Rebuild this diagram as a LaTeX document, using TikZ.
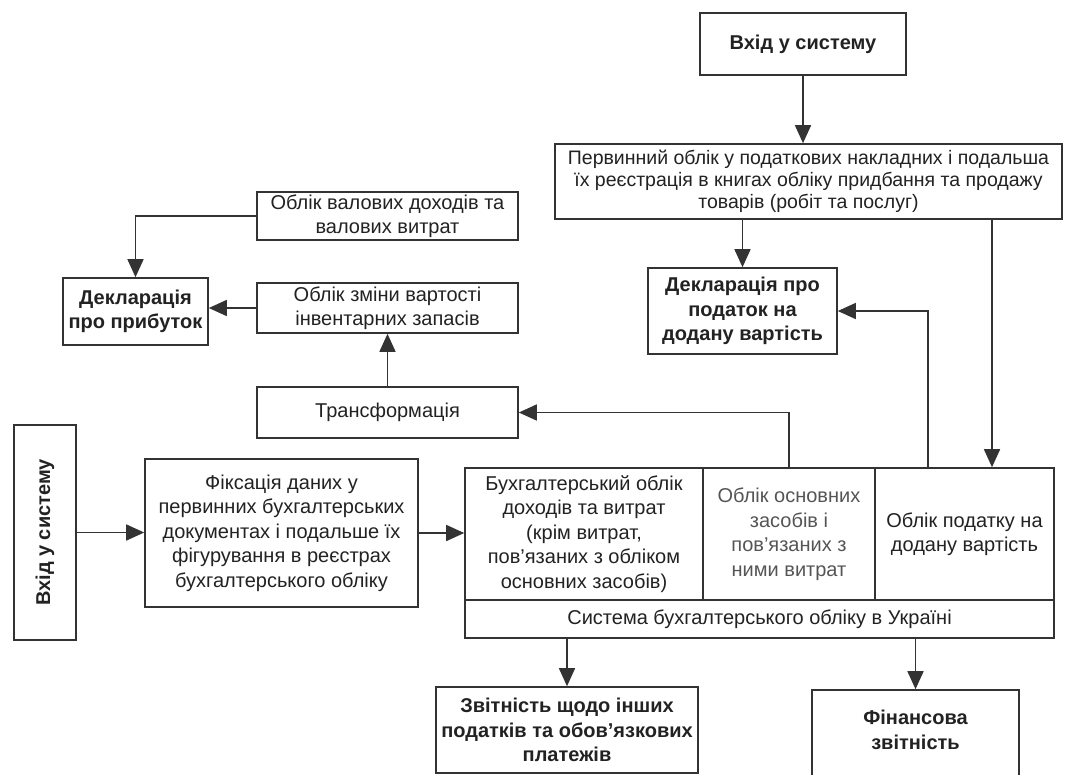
\documentclass[tikz,border=0pt]{standalone}
\usepackage{fontspec}
\setmainfont{Liberation Sans}
\usetikzlibrary{arrows.meta,calc}
\definecolor{ln}{HTML}{333333}
\definecolor{tx}{HTML}{222222}
\definecolor{txl}{HTML}{555555}
\begin{document}
\begin{tikzpicture}[x=1pt,y=-1pt,
  bx/.style={draw=ln, line width=1.6pt, align=center, inner sep=0pt, text=tx,
    font=\fontsize{20}{24.5}\selectfont},
  bxb/.style={bx, font=\fontsize{20}{24.5}\selectfont\bfseries},
  lbl/.style={align=center, inner sep=0pt, text=tx, font=\fontsize{20}{24.5}\selectfont\bfseries},
  ar/.style={draw=ln, line width=1.5pt, -{Triangle[length=18pt,width=16pt]}}]
\useasboundingbox[fill=white] (0,0) rectangle (1067,774);

% top part
\node[bxb, minimum width=206, minimum height=62] (in1) at (803,44) {Вхід у систему};
\node[bx, minimum width=507, minimum height=75, font=\fontsize{19.5}{22}\selectfont] (prim) at (808.5,181.5)
  {Первинний облік у податкових накладних і подальша\\їх реєстрація в книгах обліку придбання та продажу\\товарів (робіт та послуг)};
\node[bx, minimum width=261, minimum height=48] (gross) at (387.5,216) {Облік валових доходів та\\валових витрат};
\node[bx, minimum width=261, minimum height=50] (inv) at (387.5,308) {Облік зміни вартості\\інвентарних запасів};
\node[bxb, minimum width=145, minimum height=67] (profit) at (135.5,311.5) {Декларація\\про прибуток};
\node[bxb, minimum width=189, minimum height=86] (declvat) at (742.5,311) {Декларація про\\податок на\\додану вартість};
\node[bx, minimum width=261, minimum height=51] (transf) at (387.5,412.5) {Трансформація};

% left entry
\node[bx, minimum width=62, minimum height=215] (in2) at (45,532.5) {};
\node[lbl, rotate=90] (in2lbl) at (in2.center) {Вхід у систему};
\node[bx, minimum width=273, minimum height=148] (fix) at (281.5,533)
  {Фіксація даних у\\первинних бухгалтерських\\документах і подальше їх\\фігурування в реєстрах\\бухгалтерського обліку};

% accounting system
\node[bx, minimum width=238, minimum height=132] (acc) at (584,534)
  {Бухгалтерський облік\\доходів та витрат\\(крім витрат,\\пов’язаних з обліком\\основних засобів)};
\node[bx, minimum width=172, minimum height=132, text=txl] (fixed) at (789,534)
  {Облік основних\\засобів і\\пов’язаних з\\ними витрат};
\node[bx, minimum width=179, minimum height=132] (vat) at (964.5,534)
  {Облік податку на\\додану вартість};
\node[bx, minimum width=589, minimum height=38] (sysrow) at (759.5,619)
  {Система бухгалтерського обліку в Україні};

% reporting
\node[bxb, minimum width=262, minimum height=86] (rep) at (567,730)
  {Звітність щодо інших\\податків та обов’язкових\\платежів};
\node[bx, minimum width=207, minimum height=110] (fin) at (915.5,745) {};
\node[lbl] (finlbl) at (915.5,730) {Фінансова\\звітність};

% connectors
\coordinate (cA) at (992,0);
\coordinate (cB) at (928,0);
\draw[ar] (in1.south) -- (in1.south |- prim.north);
\draw[ar] (prim.south -| declvat.north) -- (declvat.north);
\draw[ar] (prim.south -| cA) -- (vat.north -| cA);
\draw[ar] (vat.north -| cB) |- (declvat.east);
\draw[ar] (fixed.north) |- (transf.east);
\draw[ar] (transf.north) -- (inv.south);
\draw[ar] (inv.west) -- (inv.west -| profit.east);
\draw[ar] (gross.west) -| (profit.north);
\draw[ar] (in2.east) -- (in2.east -| fix.west);
\draw[ar] (fix.east) -- (fix.east -| acc.west);
\draw[ar] (sysrow.south -| rep.north) -- (rep.north);
\draw[ar] (sysrow.south -| fin.north) -- (fin.north);
\end{tikzpicture}
\end{document}
